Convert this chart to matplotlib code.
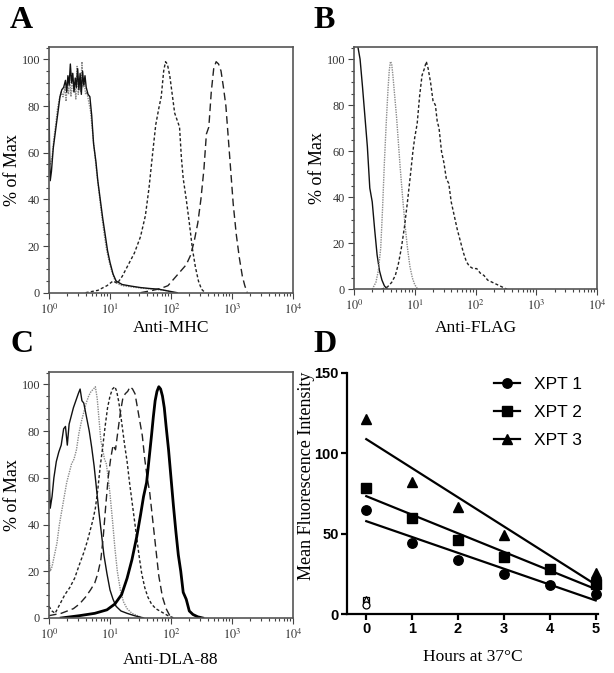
import numpy as np
import matplotlib
matplotlib.use("Agg")
import matplotlib.pyplot as plt
from matplotlib.ticker import LogLocator, MultipleLocator, FixedLocator, NullFormatter

plt.rcParams['font.family'] = ['Liberation Serif', 'DejaVu Serif']
plt.rcParams['mathtext.fontset'] = 'stix'

# ---------------- Panel A (Anti-MHC) : log10 intensity, % of max ----------------
a_iso1_log = [0.0, 0.01, 0.02, 0.04, 0.07, 0.10, 0.13, 0.15, 0.18, 0.21, 0.24, 0.27, 0.29, 0.31, 0.33,
              0.35, 0.37, 0.39, 0.41, 0.43, 0.45, 0.47, 0.49, 0.51, 0.53, 0.55, 0.57, 0.59, 0.61, 0.64,
              0.67, 0.70, 0.73, 0.77, 0.80, 0.84, 0.88, 0.92, 0.96, 1.00, 1.05, 1.10, 1.2, 1.35, 1.5,
              1.65, 1.8, 1.9, 2.0, 2.1]
a_iso1_pct = [82, 60, 48, 52, 62, 68, 74, 78, 84, 87, 88, 91, 86, 93, 89, 98, 90, 94, 86, 92, 88, 96,
              87, 94, 85, 95, 89, 93, 88, 85, 84, 76, 64, 56, 48, 40, 32, 25, 18, 13, 8, 5, 3.5, 2.8,
              2.2, 1.8, 1.5, 1.0, 0.5, 0]
a_iso2_log = [0.02, 0.05, 0.08, 0.11, 0.14, 0.17, 0.20, 0.23, 0.26, 0.28, 0.30, 0.32, 0.34, 0.36, 0.38,
              0.40, 0.42, 0.44, 0.46, 0.48, 0.50, 0.52, 0.54, 0.56, 0.58, 0.60, 0.62, 0.65, 0.68, 0.71,
              0.74, 0.78, 0.82, 0.86, 0.90, 0.94, 0.98, 1.02, 1.07, 1.12, 1.2, 1.35, 1.5, 1.7, 1.9, 2.05]
a_iso2_pct = [55, 58, 66, 72, 79, 83, 86, 84, 88, 82, 90, 85, 92, 84, 94, 86, 90, 83, 97, 85, 92, 86,
              99, 88, 90, 85, 86, 82, 78, 70, 62, 52, 43, 34, 26, 19, 14, 10, 6, 4, 3, 2.5, 2, 1.5, 1, 0]
a_mhc1_log = [0.6, 0.8, 0.95, 1.05, 1.12, 1.2, 1.3, 1.4, 1.5, 1.58, 1.64, 1.70, 1.75, 1.80, 1.84, 1.88,
              1.91, 1.94, 1.98, 2.02, 2.06, 2.10, 2.14, 2.17, 2.20, 2.25, 2.30, 2.35, 2.40, 2.45, 2.50, 2.56]
a_mhc1_pct = [0, 1, 3, 5, 4, 7, 12, 17, 24, 33, 45, 60, 72, 79, 84, 95, 99, 98, 93, 85, 77, 74, 71, 58,
              49, 40, 30, 19, 11, 5, 1.5, 0]
a_mhc2_log = [1.5, 1.7, 1.85, 1.95, 2.05, 2.15, 2.25, 2.32, 2.38, 2.44, 2.49, 2.54, 2.58, 2.62, 2.66,
              2.70, 2.74, 2.78, 2.82, 2.86, 2.90, 2.94, 2.98, 3.02, 3.07, 3.12, 3.17, 3.21, 3.25]
a_mhc2_pct = [0, 1, 2, 3, 6, 9, 12, 16, 22, 30, 40, 53, 68, 71, 86, 96, 99, 98, 95, 88, 80, 66, 52, 38,
              25, 15, 7, 3, 0]

# ---------------- Panel B (Anti-FLAG) ----------------
b_iso_log = [0.0, 0.01, 0.06, 0.10, 0.14, 0.18, 0.22, 0.26, 0.30, 0.34, 0.38, 0.42, 0.46, 0.50, 0.55]
b_iso_pct = [110, 110, 106, 100, 88, 75, 62, 44, 38, 26, 15, 8, 4, 1.5, 0]
b_f1_log = [0.30, 0.36, 0.40, 0.44, 0.47, 0.50, 0.53, 0.56, 0.58, 0.60, 0.62, 0.64, 0.67, 0.70, 0.73,
            0.76, 0.80, 0.84, 0.88, 0.92, 0.96, 1.00, 1.05]
b_f1_pct = [0, 3, 8, 18, 35, 55, 72, 87, 95, 99, 98, 93, 84, 75, 64, 53, 40, 28, 18, 10, 5, 2, 0]
b_f2_log = [0.45, 0.55, 0.62, 0.68, 0.73, 0.78, 0.83, 0.88, 0.93, 0.97, 1.00, 1.04, 1.08, 1.12, 1.16,
            1.19, 1.22, 1.26, 1.30, 1.34, 1.37, 1.40, 1.44, 1.48, 1.52, 1.56, 1.60, 1.65, 1.70, 1.75,
            1.80, 1.85, 1.90, 1.96, 2.02, 2.08, 2.14, 2.20, 2.28, 2.36, 2.44, 2.52]
b_f2_pct = [0, 1, 3, 6, 11, 18, 27, 38, 50, 60, 66, 72, 84, 93, 96, 99, 96, 90, 82, 80, 73, 70, 60, 55,
            48, 46, 38, 32, 26, 21, 16, 12, 10, 9, 9, 7, 6, 4, 3, 2, 1, 0]

# ---------------- Panel C (Anti-DLA-88) ----------------
c1_log = [0.0, 0.01, 0.02, 0.05, 0.08, 0.12, 0.16, 0.20, 0.24, 0.27, 0.30, 0.33, 0.36, 0.40, 0.44, 0.48,
          0.51, 0.54, 0.57, 0.60, 0.63, 0.66, 0.70, 0.74, 0.78, 0.82, 0.86, 0.90, 0.95, 1.00, 1.05, 1.10,
          1.18, 1.28, 1.40, 1.55]
c1_pct = [80, 55, 47, 52, 60, 67, 71, 74, 81, 82, 74, 83, 86, 90, 93, 96, 98, 93, 92, 88, 84, 80, 73,
          65, 55, 45, 36, 27, 19, 12, 8, 5, 3, 2, 1, 0]
c2_log = [0.0, 0.02, 0.05, 0.09, 0.13, 0.17, 0.21, 0.25, 0.29, 0.33, 0.37, 0.41, 0.45, 0.49, 0.53, 0.57,
          0.61, 0.65, 0.69, 0.73, 0.76, 0.79, 0.82, 0.85, 0.88, 0.91, 0.94, 0.97, 1.00, 1.04, 1.08, 1.12,
          1.17, 1.22, 1.28, 1.36, 1.45, 1.55]
c2_pct = [27, 20, 22, 27, 32, 40, 46, 52, 58, 62, 66, 68, 72, 79, 84, 88, 92, 95, 97, 98, 99, 94, 85,
          76, 72, 68, 66, 60, 53, 42, 30, 20, 12, 7, 4, 2, 1, 0]
c3_log = [0.0, 0.05, 0.10, 0.18, 0.26, 0.34, 0.42, 0.50, 0.57, 0.63, 0.68, 0.72, 0.76, 0.80, 0.84, 0.88,
          0.92, 0.96, 1.00, 1.04, 1.08, 1.11, 1.14, 1.17, 1.20, 1.24, 1.28, 1.32, 1.36, 1.40, 1.44, 1.48,
          1.52, 1.57, 1.62, 1.68, 1.75, 1.85, 1.95, 2.05]
c3_pct = [5, 3, 2, 6, 10, 13, 17, 23, 28, 33, 38, 42, 47, 55, 65, 73, 82, 90, 95, 98, 99, 97, 93, 88,
          82, 74, 67, 58, 50, 42, 34, 26, 19, 13, 9, 6, 4, 2.5, 1, 0]
c4_log = [0.0, 0.1, 0.2, 0.3, 0.4, 0.5, 0.6, 0.68, 0.75, 0.80, 0.85, 0.89, 0.93, 0.97, 1.01, 1.05, 1.09,
          1.13, 1.17, 1.21, 1.25, 1.29, 1.33, 1.37, 1.41, 1.45, 1.49, 1.53, 1.57, 1.61, 1.65, 1.70, 1.75,
          1.80, 1.86, 1.92, 2.0]
c4_pct = [1, 1.5, 2, 3, 4, 6, 9, 12, 15, 19, 25, 35, 48, 60, 68, 74, 72, 80, 88, 94, 96, 97, 99, 98, 96,
          90, 84, 78, 68, 60, 54, 42, 30, 18, 9, 4, 0]
c5_log = [0.2, 0.5, 0.75, 0.95, 1.08, 1.19, 1.28, 1.36, 1.44, 1.50, 1.55, 1.60, 1.64, 1.68, 1.71, 1.74,
          1.77, 1.80, 1.83, 1.86, 1.89, 1.92, 1.96, 2.00, 2.04, 2.08, 2.12, 2.16, 2.20, 2.25, 2.30, 2.36,
          2.44, 2.52]
c5_pct = [0, 1, 2, 3.5, 6, 10, 17, 25, 35, 44, 52, 58, 68, 78, 86, 93, 97, 99, 98, 95, 90, 82, 72, 60,
          48, 37, 27, 20, 11, 8, 3, 1.5, 0.5, 0]

# ---------------- Panel D ----------------
hours = [0, 1, 2, 3, 4, 5]
xpt1 = [64.5, 44.2, 33.8, 25.1, 18.3, 12.7]
xpt2 = [78.4, 59.8, 46.3, 35.3, 28.0, 18.7]
xpt3_hours = [0, 1, 2, 3, 5]
xpt3 = [121.4, 82.2, 66.4, 49.4, 25.5]
ctrl_hours = [0]
ctrl1 = [5.4]
ctrl2 = [9.0]
ctrl3 = [9.6]

decade_labels = [r'$10^{0}$', r'$10^{1}$', r'$10^{2}$', r'$10^{3}$', r'$10^{4}$']

W, H = 614, 673
fig = plt.figure(figsize=(W / 100, H / 100), dpi=100)


def ax_px(l, t, r, b):
    return fig.add_axes([l / W, 1 - b / H, (r - l) / W, (b - t) / H])


SOLID = dict(color='#111111', lw=1.0, ls='-')
DOT = dict(color='#8a8a8a', lw=1.0, ls=(0, (1, 0.8)))
SDASH = dict(color='#222222', lw=1.0, ls=(0, (2.2, 1.6)))
LDASH = dict(color='#222222', lw=1.0, ls=(0, (5.5, 3)))
THICK = dict(color='#000000', lw=2.0, ls='-')


def style_hist(ax, xlabel, xl_y):
    ax.set_xscale('log')
    ax.set_xlim(1, 1e4)
    ax.set_ylim(0, 105.3)
    ax.xaxis.set_major_locator(FixedLocator([1, 10, 100, 1000, 10000]))
    ax.set_xticklabels(decade_labels)
    ax.xaxis.set_minor_locator(LogLocator(base=10, subs=np.arange(2, 10), numticks=20))
    ax.xaxis.set_minor_formatter(NullFormatter())
    ax.yaxis.set_major_locator(MultipleLocator(20))
    ax.yaxis.set_minor_locator(MultipleLocator(5))
    ax.tick_params(which='both', direction='out', colors='#444444', labelsize=8.8,
                   labelcolor='#333333', width=0.8)
    ax.tick_params(which='major', length=4)
    ax.tick_params(which='minor', length=2.2)
    ax.tick_params(axis='x', pad=3)
    ax.tick_params(axis='y', pad=2.5)
    for s in ax.spines.values():
        s.set_color('#555555')
        s.set_linewidth(1.2)
    ax.set_ylabel('% of Max', fontsize=13)
    ax.yaxis.set_label_coords(-0.115, 0.5)
    ax.set_xlabel(xlabel, fontsize=12.5)
    ax.xaxis.set_label_coords(0.5, xl_y)


def hist(ax, lg, pct, style):
    ax.plot(np.power(10.0, lg), pct, clip_on=True, **style)


# Panel A
axA = ax_px(49, 47, 293, 292.7)
hist(axA, a_iso2_log, a_iso2_pct, DOT)
hist(axA, a_iso1_log, a_iso1_pct, SOLID)
hist(axA, a_mhc1_log, a_mhc1_pct, SDASH)
hist(axA, a_mhc2_log, a_mhc2_pct, LDASH)
style_hist(axA, 'Anti-MHC', -0.11)

# Panel B
axB = ax_px(354, 47, 597, 289.3)
hist(axB, b_iso_log, b_iso_pct, SOLID)
hist(axB, b_f1_log, b_f1_pct, DOT)
hist(axB, b_f2_log, b_f2_pct, SDASH)
style_hist(axB, 'Anti-FLAG', -0.125)
axB.yaxis.set_label_coords(-0.115, 0.5)

# Panel C
axC = ax_px(49, 372, 293, 618)
hist(axC, c2_log, c2_pct, DOT)
hist(axC, c1_log, c1_pct, SOLID)
hist(axC, c3_log, c3_pct, SDASH)
hist(axC, c4_log, c4_pct, LDASH)
hist(axC, c5_log, c5_pct, THICK)
style_hist(axC, 'Anti-DLA-88', -0.14)

# Panel D
axD = ax_px(347, 373, 598, 614)
series = [(hours, xpt1, 'o', 'XPT 1'), (hours, xpt2, 's', 'XPT 2'), (xpt3_hours, xpt3, '^', 'XPT 3')]
handles = []
for xs, ys, mk, lab in series:
    axD.plot(xs, ys, ls='none', marker=mk, ms=6.8, color='black', clip_on=False)
    slope, icpt = np.polyfit(xs, ys, 1)
    xx = np.array([0, max(xs)])
    axD.plot(xx, slope * xx + icpt, color='black', lw=1.6)
    h, = axD.plot([], [], color='black', lw=1.6, marker=mk, ms=6.8, label=lab)
    handles.append(h)
axD.plot(ctrl_hours, ctrl2, ls='none', marker='s', ms=5, mfc='white', mec='black', mew=0.9, clip_on=False)
axD.plot(ctrl_hours, ctrl3, ls='none', marker='^', ms=4.5, mfc='white', mec='black', mew=0.9, clip_on=False)
axD.plot(ctrl_hours, ctrl1, ls='none', marker='o', ms=5, mfc='white', mec='black', mew=0.9, clip_on=False)
axD.set_xlim(-0.42, 5.05)
axD.set_ylim(0, 150)
axD.set_xticks(hours)
axD.set_yticks([0, 50, 100, 150])
for s in ['top', 'right']:
    axD.spines[s].set_visible(False)
for s in ['left', 'bottom']:
    axD.spines[s].set_linewidth(1.6)
axD.tick_params(direction='out', length=4.5, width=1.6, labelsize=10.5, pad=1.5)
for t in axD.get_xticklabels() + axD.get_yticklabels():
    t.set_fontfamily('Liberation Sans')
    t.set_fontweight('bold')
axD.set_ylabel('Mean Fluorescence Intensity', fontsize=13)
axD.yaxis.set_label_coords(-0.128, 0.573)
axD.set_xlabel('Hours at 37\u00b0C', fontsize=12.5)
axD.xaxis.set_label_coords(0.5, -0.145)
leg = axD.legend(handles=handles, loc='upper right', frameon=False,
                 prop={'family': 'Liberation Sans', 'size': 12.5}, handlelength=1.5,
                 handletextpad=0.8, labelspacing=0.75, bbox_to_anchor=(1.0, 1.05))

# Panel letters
for letter, xp, yp in [('A', 10, 28), ('B', 313, 28), ('C', 10, 352), ('D', 313, 352)]:
    fig.text(xp / W, 1 - yp / H, letter, fontsize=23, fontweight='bold', va='baseline', ha='left')

fig.savefig('out.png', dpi=100)
